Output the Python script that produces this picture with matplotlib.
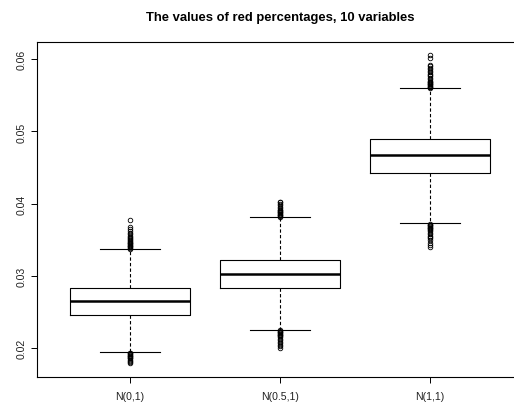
import matplotlib

matplotlib.use("Agg")
import matplotlib.pyplot as plt

# Data (R-style boxplot summary)
labels = ["N(0,1)", "N(0.5,1)", "N(1,1)"]
q1 = [0.02465, 0.02830, 0.04420]
medians = [0.02658, 0.03028, 0.04669]
q3 = [0.02834, 0.03225, 0.04895]
whis_lo = [0.01945, 0.02257, 0.03729]
whis_hi = [0.03373, 0.03812, 0.05596]

# outliers (dense columns of points beyond the whiskers)
fliers_n01 = [0.0338, 0.0339, 0.0340, 0.0341, 0.0342, 0.0343, 0.0344, 0.0345,
              0.0346, 0.0347, 0.0348, 0.0350, 0.0351, 0.0352, 0.0354, 0.0356,
              0.0358, 0.0360, 0.0362, 0.0365, 0.0368, 0.0377,
              0.0194, 0.0193, 0.0192, 0.0191, 0.0190, 0.0189, 0.0188, 0.0187,
              0.0186, 0.0184, 0.0183, 0.0181, 0.0179]
fliers_n051 = [0.0382, 0.0383, 0.0384, 0.0385, 0.0386, 0.0387, 0.0388, 0.0389,
               0.0390, 0.0391, 0.0392, 0.0394, 0.0396, 0.0398, 0.0400, 0.0402,
               0.0403,
               0.0225, 0.0224, 0.0223, 0.0222, 0.0221, 0.0220, 0.0219, 0.0218,
               0.0217, 0.0215, 0.0213, 0.0211, 0.0209, 0.0207, 0.0205, 0.0203,
               0.0200]
fliers_n11 = [0.0560, 0.0561, 0.0562, 0.0563, 0.0564, 0.0565, 0.0566, 0.0567,
              0.0568, 0.0569, 0.0570, 0.0572, 0.0574, 0.0576, 0.0578, 0.0580,
              0.0582, 0.0584, 0.0586, 0.0588, 0.0590, 0.0592, 0.0601, 0.0606,
              0.0372, 0.0371, 0.0370, 0.0369, 0.0368, 0.0367, 0.0366, 0.0365,
              0.0364, 0.0362, 0.0360, 0.0358, 0.0356, 0.0354, 0.0352, 0.0350,
              0.0346, 0.0343, 0.0340]
fliers = [fliers_n01, fliers_n051, fliers_n11]

yticks = [0.02, 0.03, 0.04, 0.05, 0.06]

stats = []
for i in range(len(labels)):
    stats.append({
        "label": labels[i], "q1": q1[i], "med": medians[i], "q3": q3[i],
        "whislo": whis_lo[i], "whishi": whis_hi[i], "fliers": fliers[i],
    })

plt.rcParams["font.family"] = ["Liberation Sans", "DejaVu Sans"]

fig = plt.figure(figsize=(5.14, 4.06), dpi=100)
# R frame runs past the right edge of the saved image
ax = fig.add_axes([37 / 514, 28 / 406, 486 / 514, 335 / 406])

ax.bxp(stats, widths=0.8, capwidths=0.4,
       boxprops=dict(color="black", linewidth=0.8),
       medianprops=dict(color="black", linewidth=1.8),
       whiskerprops=dict(color="black", linewidth=0.8, linestyle=(0, (3, 2))),
       capprops=dict(color="black", linewidth=0.8),
       flierprops=dict(marker="o", markerfacecolor="none", markeredgecolor="black",
                       markersize=3.3, markeredgewidth=0.6, linestyle="none"))

ax.set_xlim(0.38, 3.62)
ax.set_ylim(0.01603, 0.06237)
ax.set_yticks(yticks)
ax.set_yticklabels([f"{v:.2f}" for v in yticks], rotation=90, va="center")
ax.tick_params(axis="both", labelsize=7.6, length=4.3, width=0.7, color="black",
               labelcolor="#222222")
ax.tick_params(axis="y", pad=3.5)
ax.tick_params(axis="x", pad=5.5)
for sp in ax.spines.values():
    sp.set_linewidth(0.8)
    sp.set_color("black")

ax.set_title("The values of red percentages, 10 variables",
             fontsize=9.4, fontweight="bold", pad=16)

fig.savefig("out.png", dpi=100)
